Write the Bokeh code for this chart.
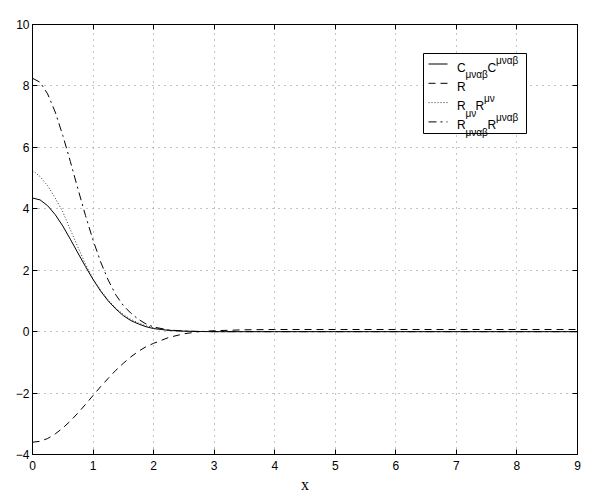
from bokeh.plotting import figure
from bokeh.models import LinearAxis, Range1d, FixedTicker
from bokeh.embed import file_html
from bokeh.resources import INLINE
from bokeh.core.properties import value

# ---------------- data ----------------
x = [0, 0.125, 0.25, 0.375, 0.5, 0.625, 0.75, 0.875, 1.0, 1.125, 1.25, 1.375,
     1.5, 1.625, 1.75, 1.875, 2.0, 2.25, 2.5, 2.75, 3.0, 3.5, 4, 5, 6, 7, 8, 9]
weyl_sq = [4.35, 4.29, 4.10, 3.81, 3.44, 3.01, 2.56, 2.12, 1.70, 1.32, 1.00, 0.74,
           0.52, 0.36, 0.25, 0.16, 0.10, 0.04, 0.015, 0.005, 0.0, 0.0, 0.0, 0.0,
           0.0, 0.0, 0.0, 0.0]
ricci_scalar = [-3.60, -3.57, -3.48, -3.33, -3.14, -2.91, -2.65, -2.37, -2.08, -1.79,
                -1.52, -1.26, -1.03, -0.82, -0.64, -0.49, -0.38, -0.19, -0.07, 0.0,
                0.03, 0.06, 0.07, 0.07, 0.07, 0.07, 0.07, 0.07]
ricci_sq = [5.25, 5.05, 4.75, 4.35, 3.90, 3.32, 2.75, 2.20, 1.72, 1.35, 1.03, 0.77,
            0.56, 0.40, 0.28, 0.19, 0.12, 0.05, 0.018, 0.006, 0.0, 0.0, 0.0, 0.0,
            0.0, 0.0, 0.0, 0.0]
kretschmann = [8.25, 8.12, 7.74, 7.15, 6.39, 5.54, 4.65, 3.78, 2.98, 2.27, 1.68, 1.20,
               0.85, 0.60, 0.40, 0.25, 0.15, 0.055, 0.018, 0.005, 0.0, 0.0, 0.0, 0.0,
               0.0, 0.0, 0.0, 0.0]

x_ticks = [0, 1, 2, 3, 4, 5, 6, 7, 8, 9]
y_ticks = [-4, -2, 0, 2, 4, 6, 8, 10]
y_tick_labels = {-4: "\u22124", -2: "\u22122", 0: "0", 2: "2", 4: "4", 6: "6", 8: "8", 10: "10"}
x_label = "x"

# ---------------- layout ----------------
X0, X1, Y0, Y1 = 0, 9, -4, 10
FW, FH = 545, 430
BL, BT = 32, 24
PAGE = 0

p = figure(frame_width=FW, frame_height=FH,
           x_range=Range1d(X0, X1), y_range=Range1d(Y0, Y1),
           output_backend="svg", toolbar_location=None,
           min_border_left=BL, min_border_right=18, min_border_top=BT,
           min_border_bottom=40, background_fill_color="white",
           border_fill_color="white")

p.outline_line_color = "black"
p.outline_line_width = 1

font = "Liberation Sans"
for ax in p.xaxis:
    ax.ticker = FixedTicker(ticks=x_ticks)
    ax.major_tick_in = 5
    ax.major_tick_out = 0
    ax.minor_tick_line_color = None
    ax.axis_line_color = "black"
    ax.major_tick_line_color = "black"
    ax.major_label_text_font = font
    ax.major_label_text_font_size = "12px"
    ax.major_label_text_color = "black"
    ax.major_label_standoff = 6
    ax.axis_label = x_label
    ax.axis_label_text_font = "Liberation Serif"
    ax.axis_label_text_font_style = "normal"
    ax.axis_label_text_font_size = "16px"
    ax.axis_label_text_color = "black"
    ax.axis_label_standoff = 3
for ax in p.yaxis:
    ax.ticker = FixedTicker(ticks=y_ticks)
    ax.major_label_overrides = y_tick_labels
    ax.major_tick_in = 5
    ax.major_tick_out = 0
    ax.minor_tick_line_color = None
    ax.axis_line_color = "black"
    ax.major_tick_line_color = "black"
    ax.major_label_text_font = font
    ax.major_label_text_font_size = "12px"
    ax.major_label_text_color = "black"
    ax.major_label_standoff = 3

# box axes (top / right) with inward ticks, no labels
top = LinearAxis(ticker=FixedTicker(ticks=x_ticks),
                 major_label_overrides={t: "" for t in x_ticks},
                 major_tick_in=5, major_tick_out=0, minor_tick_line_color=None,
                 axis_line_color="black", major_label_standoff=0,
                 major_label_text_font_size="1px")
right = LinearAxis(ticker=FixedTicker(ticks=y_ticks),
                   major_label_overrides={t: "" for t in y_ticks},
                   major_tick_in=5, major_tick_out=0, minor_tick_line_color=None,
                   axis_line_color="black", major_label_standoff=0,
                   major_label_text_font_size="1px")
p.add_layout(top, "above")
p.add_layout(right, "right")

for g in (p.xgrid, p.ygrid):
    g.grid_line_color = "#888888"
    g.grid_line_dash = "1 5"
    g.grid_line_width = 1

# ---------------- curves ----------------
p.line(x, weyl_sq, line_color="black", line_width=1)
p.line(x, ricci_scalar, line_color="black", line_width=1, line_dash="7 5")
p.line(x, ricci_sq, line_color="#333333", line_width=1, line_dash="1 2")
p.line(x, kretschmann, line_color="black", line_width=1, line_dash="8 4 2 4")

# ---------------- legend (drawn by hand, page pixel layout -> data) ----------------
fl, ft = PAGE + BL, PAGE + BT


def dx(px):
    return X0 + (px - fl) / FW * (X1 - X0)


def dy(py):
    return Y1 - (py - ft) / FH * (Y1 - Y0)


p.quad(left=[dx(423)], right=[dx(526)], top=[dy(53)], bottom=[dy(133)],
       fill_color="white", line_color="black", line_width=1)

row_c = [63.5, 82.8, 102.1, 121.4]
dashes = ["solid", "7 5", "1 2", "8 4 2 4"]
colors = ["black", "black", "#333333", "black"]
for yc, d, c in zip(row_c, dashes, colors):
    p.line([dx(428), dx(447)], [dy(yc), dy(yc)], line_color=c, line_width=1, line_dash=d)

main_t, main_x, main_y = [], [], []
small_t, small_x, small_y = [], [], []
legend_parts = [
    [("C", 0, 0, 0), ("μναβ", 8.5, 7, 1), ("C", 30.5, 0, 0), ("μναβ", 39, -7.5, 1)],
    [("R", 0, 0, 0)],
    [("R", 0, 0, 0), ("μν", 8.5, 7, 1), ("R", 18.5, 0, 0), ("μν", 27, -7.5, 1)],
    [("R", 0, 0, 0), ("μναβ", 8.5, 7, 1), ("R", 30.5, 0, 0), ("μναβ", 39, -7.5, 1)],
]
tx0 = 456.5
for yc, parts in zip(row_c, legend_parts):
    base = yc + 3.5
    for t, ox, oy, small in parts:
        if small:
            small_t.append(t); small_x.append(dx(tx0 + ox)); small_y.append(dy(base + oy))
        else:
            main_t.append(t); main_x.append(dx(tx0 + ox)); main_y.append(dy(base + oy))

p.text(main_x, main_y, text=main_t, text_font=value(font), text_font_size="12px",
       text_baseline="alphabetic", text_align="left", text_color="black")
p.text(small_x, small_y, text=small_t, text_font=value(font), text_font_size="10px",
       text_baseline="alphabetic", text_align="left", text_color="black")

open("out.html", "w").write(file_html(p, INLINE))
